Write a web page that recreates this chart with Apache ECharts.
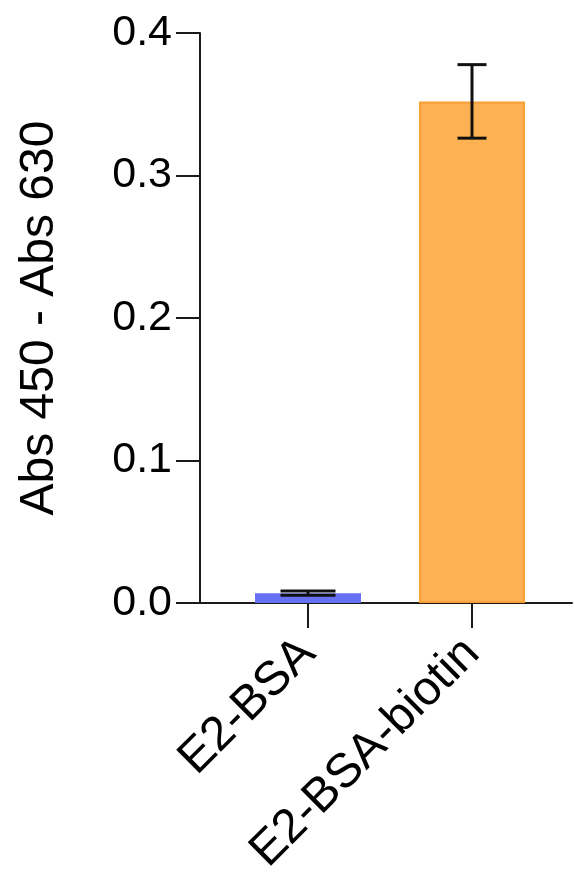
<!DOCTYPE html>
<html><head><meta charset="utf-8">
<script src="https://cdn.jsdelivr.net/npm/echarts@6/dist/echarts.min.js"></script>
<style>html,body{margin:0;padding:0;background:#fff}#c{width:574px;height:872px}</style>
</head><body><div id="c"></div>
<script>
const categories = ['E2-BSA', 'E2-BSA-biotin'];
const means = [0.0069, 0.352];
const errors = [0.0015, 0.0258];
const yMin = 0, yMax = 0.4, yStep = 0.1;
const yTitle = 'Abs 450 - Abs 630';

const barColors = ['#6670F3', '#FDB152'];
const barBorders = ['#6670F3', '#F8A035'];
const capWidths = [55, 29];
const FONT = 'Liberation Sans, Arial, Helvetica, sans-serif';
const INK = '#1a1a1a';

const chart = echarts.init(document.getElementById('c'), null, {renderer: 'canvas'});
chart.setOption({
  animation: false,
  backgroundColor: '#fff',
  grid: [
    {left: 226, right: 20, top: 33, bottom: 269, containLabel: false, outerBoundsMode: 'none'},
    {left: 200, right: 2, top: 33, bottom: 269, containLabel: false, outerBoundsMode: 'none'}
  ],
  xAxis: [
    {
      type: 'category', gridIndex: 0, data: categories,
      axisLine: {show: false},
      axisTick: {show: true, alignWithLabel: true, length: 25, lineStyle: {color: INK, width: 2}},
      axisLabel: {rotate: 45, margin: 43, fontSize: 48, fontFamily: FONT, color: '#000', interval: 0},
      splitLine: {show: false}
    },
    {
      type: 'value', gridIndex: 1, min: 0, max: 1,
      axisLine: {show: true, lineStyle: {color: INK, width: 2}},
      axisTick: {show: false}, axisLabel: {show: false}, splitLine: {show: false}
    }
  ],
  yAxis: [
    {
      type: 'value', gridIndex: 0, min: yMin, max: yMax, interval: yStep, offset: 26,
      name: yTitle, nameLocation: 'middle', nameGap: 136,
      nameTextStyle: {fontSize: 48, fontFamily: FONT, color: '#000'},
      axisLine: {show: true, lineStyle: {color: INK, width: 2}},
      axisTick: {show: true, length: 24, lineStyle: {color: INK, width: 2}},
      axisLabel: {margin: 28, fontSize: 43, fontFamily: FONT, color: '#000', formatter: v => v.toFixed(1)},
      splitLine: {show: false}
    },
    {
      type: 'value', gridIndex: 1, min: 0, max: 1, show: false
    }
  ],
  series: [
    {
      type: 'bar', xAxisIndex: 0, yAxisIndex: 0, barWidth: 106,
      data: means.map((v, i) => ({value: v, itemStyle: {color: barColors[i], borderColor: barBorders[i], borderWidth: 2}})),
      z: 2
    },
    {
      type: 'custom', xAxisIndex: 0, yAxisIndex: 0, z: 5,
      data: means.map((v, i) => [i, v - errors[i], v + errors[i]]),
      renderItem: function (params, api) {
        const idx = params.dataIndex;
        const lo = api.coord([api.value(0), api.value(1)]);
        const hi = api.coord([api.value(0), api.value(2)]);
        const hw = capWidths[idx] / 2;
        const style = {stroke: '#111', lineWidth: 3};
        return {
          type: 'group',
          children: [
            {type: 'line', shape: {x1: hi[0], y1: hi[1], x2: lo[0], y2: lo[1]}, style: style},
            {type: 'line', shape: {x1: hi[0] - hw, y1: hi[1], x2: hi[0] + hw, y2: hi[1]}, style: style},
            {type: 'line', shape: {x1: lo[0] - hw, y1: lo[1], x2: lo[0] + hw, y2: lo[1]}, style: style}
          ]
        };
      }
    }
  ]
});
</script>
</body></html>
